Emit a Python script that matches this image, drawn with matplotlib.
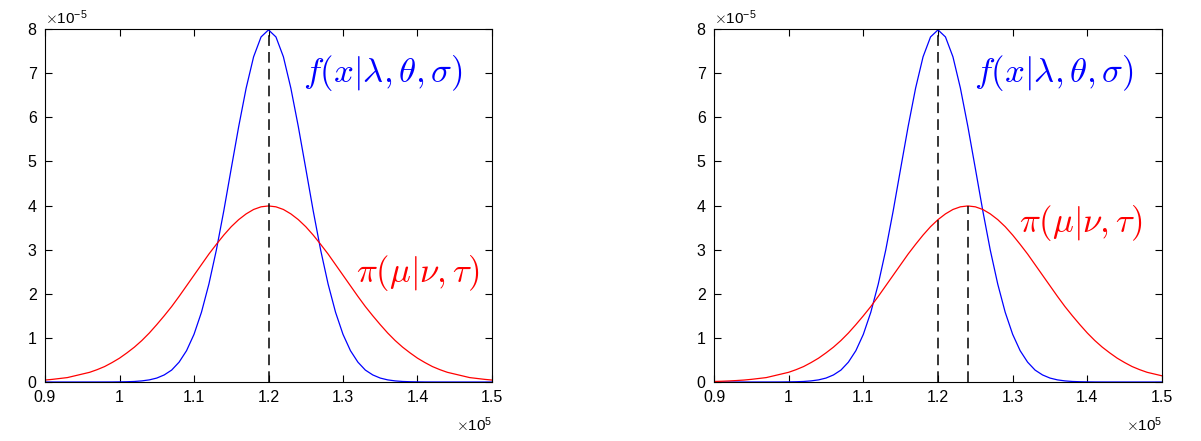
import numpy as np
import matplotlib.pyplot as plt

# x grid (step 1000) and densities, in units of 1e-5
x = np.arange(90000, 150001, 1000)

# blue curve, centred at 1.2e5 (same in both panels)
blue_half = [7.98, 7.82, 7.37, 6.66, 5.79, 4.84, 3.88, 2.99, 2.22, 1.58, 1.08,
             0.71, 0.45, 0.27, 0.16, 0.089, 0.048, 0.025, 0.012, 0.006, 0.003,
             0.001, 0.0005, 0.0002, 0.0001, 0.0, 0.0, 0.0, 0.0, 0.0, 0.0]
blue = blue_half[::-1] + blue_half[1:]

# red curve, half-profile from its peak outwards (step 1000)
red_half = [3.99, 3.97, 3.91, 3.81, 3.68, 3.52, 3.33, 3.12, 2.90, 2.66, 2.42,
            2.18, 1.94, 1.71, 1.50, 1.30, 1.11, 0.94, 0.79, 0.66, 0.54,
            0.44, 0.35, 0.28, 0.22, 0.18, 0.14, 0.10, 0.08, 0.06, 0.044,
            0.033, 0.024, 0.017, 0.012]
red_left = red_half[:31][::-1] + red_half[1:31]            # peak at 1.2e5
red_right = red_half[:35][::-1] + red_half[1:27]           # peak at 1.24e5

peak_x = [[120000], [120000, 124000]]
peak_y = [[7.98], [7.98, 3.99]]

x_ticks = [90000, 100000, 110000, 120000, 130000, 140000, 150000]
x_ticklabels = ['0.9', '1', '1.1', '1.2', '1.3', '1.4', '1.5']
y_ticks = [0, 1, 2, 3, 4, 5, 6, 7, 8]

label_f = r'$f(x|\lambda,\theta,\sigma)$'
label_pi = r'$\pi(\mu|\nu,\tau)$'

plt.rcParams['font.family'] = 'Liberation Sans'
plt.rcParams['mathtext.fontset'] = 'cm'

fig = plt.figure(figsize=(12.01, 4.41), dpi=100)
ax1 = fig.add_axes([45 / 1201, 1 - 382 / 441, 447 / 1201, 353 / 441])
ax2 = fig.add_axes([714 / 1201, 1 - 382 / 441, 448 / 1201, 353 / 441])

panels = [(ax1, red_left, (0.578, 0.875), (0.695, 0.31)),
          (ax2, red_right, (0.58, 0.875), (0.68, 0.45))]

for i, (ax, red, fpos, ppos) in enumerate(panels):
    ax.plot(x, blue, color='blue', lw=0.9)
    ax.plot(x, red, color='red', lw=0.9)
    ax.vlines(peak_x[i], 0, peak_y[i], colors='black', linestyles=(0, (7, 4)), lw=1.1)
    ax.set_xlim(90000, 150000)
    ax.set_ylim(0, 8)
    ax.set_xticks(x_ticks, x_ticklabels)
    ax.set_yticks(y_ticks)
    ax.tick_params(direction='in', top=True, right=True, length=5,
                   labelsize=11.5, width=0.8, pad=6)
    for s in ax.spines.values():
        s.set_linewidth(0.8)
    ax.text(0.0, 1.005, r'$\times\mathdefault{10^{-5}}$', transform=ax.transAxes,
            ha='left', va='bottom', fontsize=11)
    ax.text(1.0, -0.095, r'$\times\mathdefault{10^{5}}$', transform=ax.transAxes,
            ha='right', va='top', fontsize=11)
    ax.text(fpos[0], fpos[1], label_f, transform=ax.transAxes, color='blue',
            fontsize=25, ha='left', va='center')
    ax.text(ppos[0], ppos[1], label_pi, transform=ax.transAxes, color='red',
            fontsize=25, ha='left', va='center')

fig.savefig('out.png', dpi=100)
